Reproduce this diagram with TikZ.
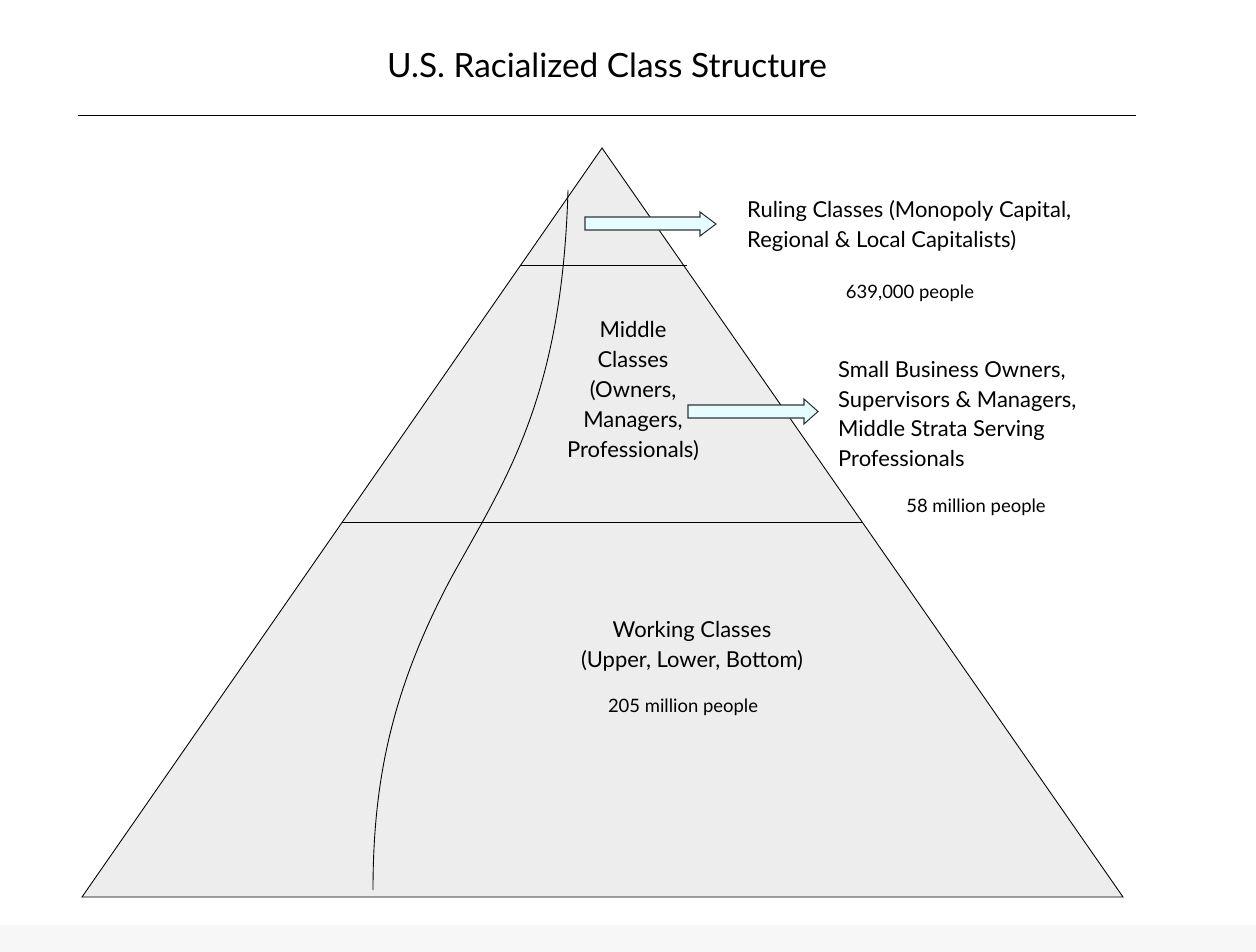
\documentclass[tikz,border=0pt]{standalone}
\usepackage{fontspec}
\setmainfont{Lato}
\usetikzlibrary{shapes.arrows}
\begin{document}
\begin{tikzpicture}[x=0.02cm,y=-0.02cm,
  big/.style={font=\fontsize{12.5}{17}\selectfont},
  small/.style={font=\fontsize{10.5}{13}\selectfont},
  barrow/.style={draw=black!80,fill=blue!8!cyan!10,line width=0.6pt},
  ln/.style={line width=0.5pt}]
\useasboundingbox (0,0) rectangle (1256,952);
\fill[black!3] (0,925) rectangle (1256,952);
\node[font=\fontsize{19}{23}\selectfont] (title) at (607,65) {U.S. Racialized Class Structure};
\coordinate (r1) at (78,115); \coordinate (r2) at (1136,115);
\draw[ln] (r1) -- (r2);
\coordinate (A) at (602,148); \coordinate (B) at (82,897); \coordinate (C) at (1123,897);
\draw[ln,fill=black!7] (A) -- (B) -- (C) -- cycle;
\coordinate (l1) at (521,265); \coordinate (l2) at (687,265);
\coordinate (m1) at (342,522); \coordinate (m2) at (862,522);
\draw[ln] (l1) -- (l2); \draw[ln] (m1) -- (m2);
\coordinate (c0) at (568,190); \coordinate (c1) at (450,580); \coordinate (c2) at (373,890);
\draw[ln] (c0) .. controls (562,400) and (505,480) .. (c1) .. controls (392,690) and (373,780) .. (c2);
\draw[barrow] (585,217) -- (700,217) -- (700,212) -- (716,224) -- (700,236) -- (700,230) -- (585,230) -- cycle;
\draw[barrow] (688,405) -- (804,405) -- (804,399) -- (818,411.5) -- (804,424) -- (804,418) -- (688,418) -- cycle;
\node[big,align=left,anchor=west] (rul) at (741,226) {Ruling Classes (Monopoly Capital,\\Regional \& Local Capitalists)};
\node[small] (n1) at (910,293) {639,000 people};
\node[big,align=center] (mid) at (633,391) {Middle\\Classes\\(Owners,\\Managers,\\Professionals)};
\node[big,align=left,anchor=west] (sb) at (832,414) {Small Business Owners,\\Supervisors \& Managers,\\Middle Strata Serving\\Professionals};
\node[small] (n2) at (976,507) {58 million people};
\node[big,align=center] (work) at (692,646) {Working Classes\\(Upper, Lower, Bottom)};
\node[small] (n3) at (683,707) {205 million people};
\end{tikzpicture}
\end{document}
